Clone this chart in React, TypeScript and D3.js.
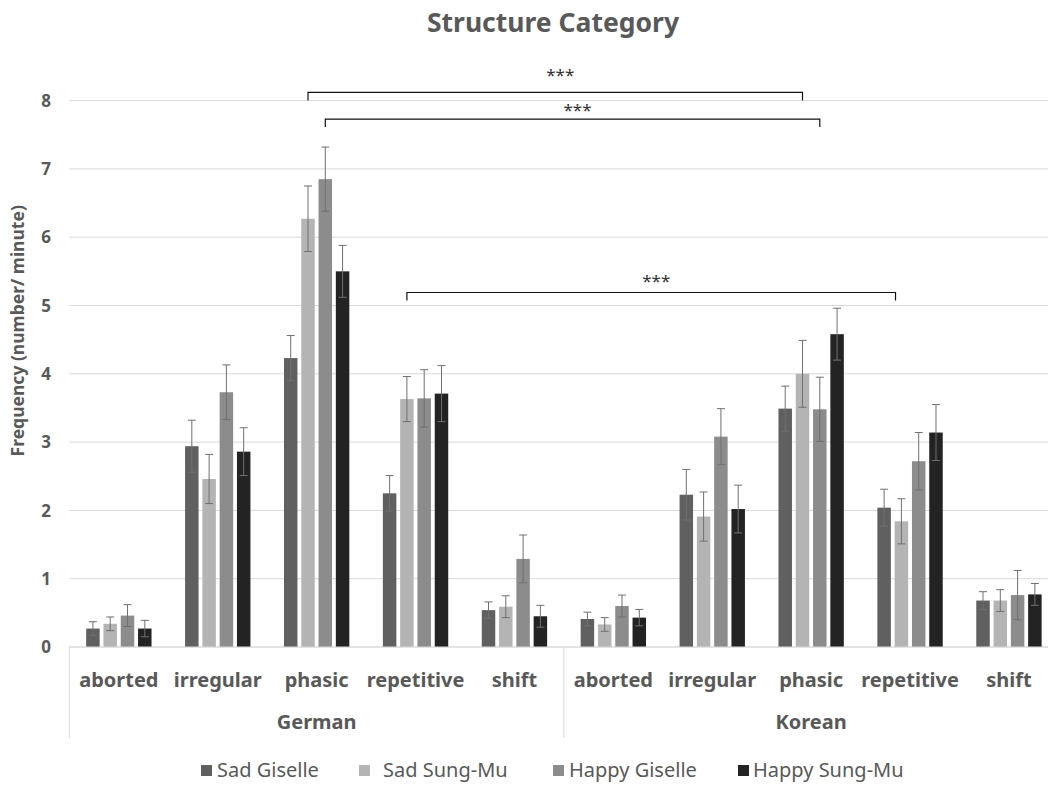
import React from "react";
import * as d3 from "d3";

const groups = ["German", "Korean"];
const categories = ["aborted", "irregular", "phasic", "repetitive", "shift"];
const seriesNames = ["Sad Giselle", "Sad Sung-Mu", "Happy Giselle", "Happy Sung-Mu"];
const seriesColors = ["#606060", "#b4b4b4", "#8c8c8c", "#232323"];
const yTicks = [0, 1, 2, 3, 4, 5, 6, 7, 8];

// values: German (5 categories) then Korean (5 categories)
const sadGiselle = [0.27, 2.94, 4.23, 2.25, 0.54, 0.41, 2.23, 3.49, 2.04, 0.68];
const sadGiselleErr = [0.1, 0.38, 0.33, 0.26, 0.12, 0.1, 0.37, 0.33, 0.27, 0.13];
const sadSungMu = [0.34, 2.46, 6.27, 3.63, 0.59, 0.33, 1.91, 4.0, 1.84, 0.68];
const sadSungMuErr = [0.1, 0.36, 0.48, 0.33, 0.16, 0.1, 0.36, 0.49, 0.33, 0.16];
const happyGiselle = [0.46, 3.73, 6.85, 3.64, 1.29, 0.6, 3.08, 3.48, 2.72, 0.76];
const happyGiselleErr = [0.16, 0.4, 0.47, 0.42, 0.35, 0.16, 0.41, 0.47, 0.42, 0.36];
const happySungMu = [0.27, 2.86, 5.5, 3.71, 0.45, 0.43, 2.02, 4.58, 3.14, 0.77];
const happySungMuErr = [0.12, 0.35, 0.38, 0.41, 0.16, 0.12, 0.35, 0.38, 0.41, 0.16];

// significance brackets: from (category index, series position) to (category index, series position) at y value
const brackets = [
  { fromCat: 2, fromSeries: 1, toCat: 7, toSeries: 1, level: 8.12, label: "***" },
  { fromCat: 2, fromSeries: 2, toCat: 7, toSeries: 2, level: 7.73, label: "***" },
  { fromCat: 3, fromSeries: 1, toCat: 8, toSeries: 0.66, level: 5.19, label: "***" },
];
const bracketLabelGap = [20, 12.5, 15];

const W = 1048;
const H = 792;
const FONT = "'Noto Sans', 'DejaVu Sans', sans-serif";
const TEXT = "#595959";

export default function App() {
  const allCats = groups.flatMap((g) => categories.map((c) => `${g}|${c}`));
  const values = [sadGiselle, sadSungMu, happyGiselle, happySungMu];
  const errs = [sadGiselleErr, sadSungMuErr, happyGiselleErr, happySungMuErr];

  const x = d3.scaleBand<string>().domain(allCats).range([69.4, 1058.4]).padding(0);
  const y = d3.scaleLinear().domain([0, 8]).range([647, 100.6]);
  const bw = x.bandwidth();
  const inner = d3
    .scaleBand<number>()
    .domain(d3.range(seriesNames.length))
    .range([0, bw])
    .paddingInner(0.22)
    .paddingOuter(0.97);
  const barW = inner.bandwidth();
  const seriesCenter = (ci: number, s: number) =>
    (x(allCats[ci]) as number) + (inner(0) as number) + barW / 2 + s * inner.step();

  const legendSq = [201, 359, 553, 738];
  const legendTx = [217, 383, 569, 753];

  return (
    <svg
      width={W}
      height={H}
      style={{ position: "absolute", left: 0, top: 0, background: "#fff", fontFamily: FONT }}
    >
      <rect width={W} height={H} fill="#fff" />
      <text x={553} y={32} textAnchor="middle" fontSize={26.5} fontWeight="bold" fill={TEXT}>
        Structure Category
      </text>

      {/* gridlines */}
      {yTicks.map((t) => (
        <g key={t}>
          <line x1={69.4} x2={W} y1={y(t)} y2={y(t)} stroke="#d9d9d9" strokeWidth={1} />
          <text
            x={51}
            y={y(t)}
            dy="0.36em"
            textAnchor="end"
            fontSize={17}
            fontWeight="bold"
            fill={TEXT}
          >
            {t}
          </text>
        </g>
      ))}

      <text
        transform={`translate(18,${(y(0) + y(8)) / 2 - 43}) rotate(-90)`}
        textAnchor="middle"
        dy="0.35em"
        fontSize={17.5}
        fontWeight="bold"
        fill={TEXT}
      >
        Frequency (number/ minute)
      </text>

      {/* bars */}
      {values.map((vals, s) =>
        vals.map((v, ci) => {
          const cx = seriesCenter(ci, s);
          return (
            <rect
              key={`${s}-${ci}`}
              x={cx - barW / 2}
              y={y(v)}
              width={barW}
              height={y(0) - y(v)}
              fill={seriesColors[s]}
            />
          );
        })
      )}

      {/* error bars */}
      {values.map((vals, s) =>
        vals.map((v, ci) => {
          const cx = seriesCenter(ci, s);
          const e = errs[s][ci];
          const top = y(v + e);
          const bot = y(Math.max(0, v - e));
          return (
            <g key={`e${s}-${ci}`} stroke="#707070" strokeWidth={1}>
              <line x1={cx} x2={cx} y1={top} y2={bot} />
              <line x1={cx - 4} x2={cx + 4} y1={top} y2={top} />
              <line x1={cx - 4} x2={cx + 4} y1={bot} y2={bot} />
            </g>
          );
        })
      )}

      {/* axis lines */}
      <line x1={69.4} x2={W} y1={y(0)} y2={y(0)} stroke="#d9d9d9" />
      {[0, 5, 10].map((i) => {
        const xx = i < 10 ? (x(allCats[i]) as number) : 1058.4;
        return <line key={i} x1={xx} x2={xx} y1={y(0)} y2={738} stroke="#d9d9d9" />;
      })}

      {/* category labels */}
      {allCats.map((c) => (
        <text
          key={c}
          x={(x(c) as number) + bw / 2}
          y={687}
          textAnchor="middle"
          fontSize={20}
          fontWeight="bold"
          fill={TEXT}
        >
          {c.split("|")[1]}
        </text>
      ))}
      {groups.map((g, gi) => {
        const x0 = x(allCats[gi * 5]) as number;
        const x1 = (x(allCats[gi * 5 + 4]) as number) + bw;
        return (
          <text
            key={g}
            x={(x0 + x1) / 2}
            y={729}
            textAnchor="middle"
            fontSize={20}
            fontWeight="bold"
            fill={TEXT}
          >
            {g}
          </text>
        );
      })}

      {/* brackets */}
      {brackets.map((b, i) => {
        const x1 = seriesCenter(b.fromCat, b.fromSeries);
        const x2 = seriesCenter(b.toCat, b.toSeries);
        const yy = y(b.level);
        return (
          <g key={i}>
            <path
              d={`M${x1},${yy + 8}V${yy}H${x2}V${yy + 8}`}
              fill="none"
              stroke="#111"
              strokeWidth={1.2}
            />
            <text
              x={(x1 + x2) / 2 + 5}
              y={yy - bracketLabelGap[i] + 9}
              textAnchor="middle"
              fontSize={17}
              fill="#333"
            >
              {b.label}
            </text>
          </g>
        );
      })}

      {/* legend */}
      {seriesNames.map((n, i) => (
        <g key={n}>
          <rect x={legendSq[i]} y={765} width={11} height={11} fill={seriesColors[i]} />
          <text x={legendTx[i]} y={777} fontSize={20} fill={TEXT}>
            {n}
          </text>
        </g>
      ))}
    </svg>
  );
}
